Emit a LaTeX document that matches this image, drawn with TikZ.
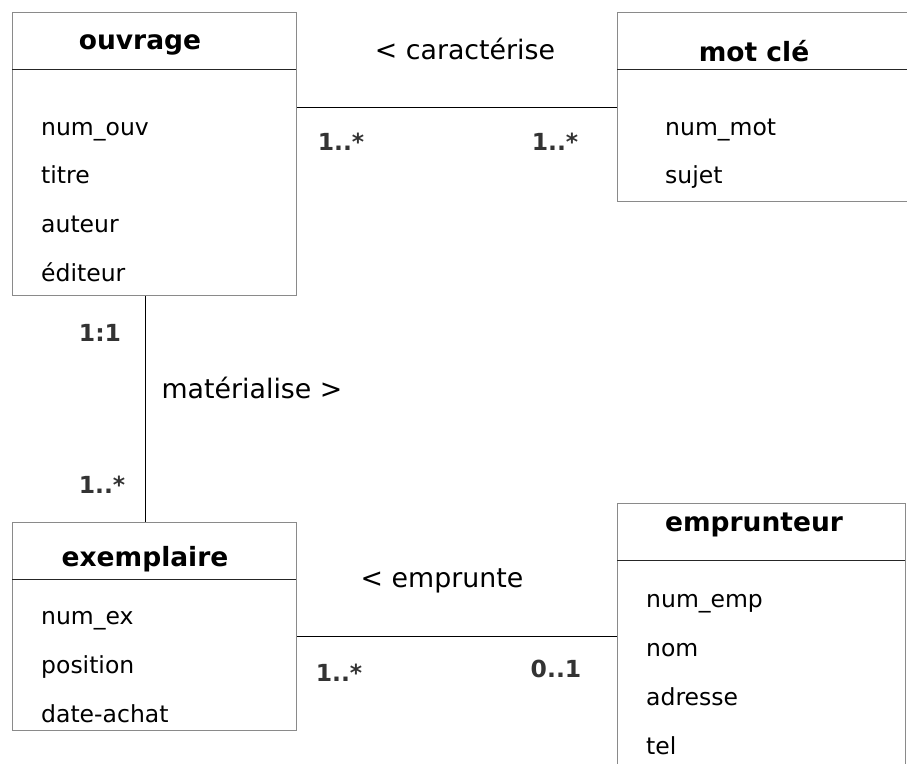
\documentclass[tikz,border=0pt]{standalone}
\usepackage{fontspec}
\setmainfont{DejaVu Sans}
\definecolor{boxgray}{HTML}{8A8A8A}
\definecolor{labgray}{HTML}{333333}
\begin{document}
\begin{tikzpicture}[x=1pt,y=-1pt,
  classbox/.style={draw=boxgray, line width=1pt, rectangle, inner sep=0pt, anchor=north west},
  sep/.style={draw=black!85, line width=0.9pt},
  conn/.style={draw=black, line width=0.9pt},
  title/.style={font=\fontsize{26.5}{30}\selectfont\bfseries, anchor=mid},
  attr/.style={font=\fontsize{23.5}{28}\selectfont, anchor=mid west, inner sep=0pt},
  rel/.style={font=\fontsize{26.8}{30}\selectfont, anchor=mid, inner sep=0pt},
  mult/.style={font=\fontsize{23.5}{28}\selectfont\bfseries, text=labgray, anchor=mid, inner sep=0pt}]
\useasboundingbox (0,0) rectangle (907,763);
\clip (0,0) rectangle (907,763);
% boxes
\node[classbox, minimum width=284pt, minimum height=283pt] (ouv) at (12,12) {};
\node[classbox, minimum width=296pt, minimum height=189pt] (mot) at (617,12) {};
\node[classbox, minimum width=284pt, minimum height=208pt] (ex) at (12,522) {};
\node[classbox, minimum width=288pt, minimum height=300pt] (emp) at (617,503) {};
% separators
\coordinate (ouvL) at (12,69); \coordinate (ouvR) at (296,69);
\coordinate (motL) at (617,69); \coordinate (motR) at (913,69);
\coordinate (exL) at (12,579); \coordinate (exR) at (296,579);
\coordinate (empL) at (617,560); \coordinate (empR) at (905,560);
\draw[sep] (ouvL) -- (ouvR);
\draw[sep] (motL) -- (motR);
\draw[sep] (exL) -- (exR);
\draw[sep] (empL) -- (empR);
% titles
\node[title] (tOuv) at (140,47) {ouvrage};
\node[title] (tMot) at (754,59) {mot clé};
\node[title] (tEx) at (145,564) {exemplaire};
\node[title] (tEmp) at (754,529) {emprunteur};
% attributes
\node[attr] (a1) at (41,133) {num\_ouv};
\node[attr] (a2) at (41,181) {titre};
\node[attr] (a3) at (41,230) {auteur};
\node[attr] (a4) at (41,279) {éditeur};
\node[attr] (b1) at (665,133) {num\_mot};
\node[attr] (b2) at (665,181) {sujet};
\node[attr] (c1) at (41,622) {num\_ex};
\node[attr] (c2) at (41,671) {position};
\node[attr] (c3) at (41,720) {date-achat};
\node[attr] (d1) at (646,605) {num\_emp};
\node[attr] (d2) at (646,654) {nom};
\node[attr] (d3) at (646,703) {adresse};
\node[attr] (d4) at (646,752) {tel};
% connectors
\draw[conn] (ouv.east |- 0,107) -- (mot.west |- 0,107);
\draw[conn] (ex.east |- 0,636) -- (emp.west |- 0,636);
\draw[conn] (ouv.south -| 145,0) -- (ex.north -| 145,0);
% relation labels
\node[rel] (r1) at (465,57) {< caractérise};
\node[rel] (r2) at (252,396) {matérialise >};
\node[rel] (r3) at (442,585) {< emprunte};
% multiplicities
\node[mult] (m1) at (341,148) {1..*};
\node[mult] (m2) at (555,148) {1..*};
\node[mult] (m3) at (100,339) {1:1};
\node[mult] (m4) at (102,491) {1..*};
\node[mult] (m5) at (339,679) {1..*};
\node[mult] (m6) at (556,675) {0..1};
\end{tikzpicture}
\end{document}
